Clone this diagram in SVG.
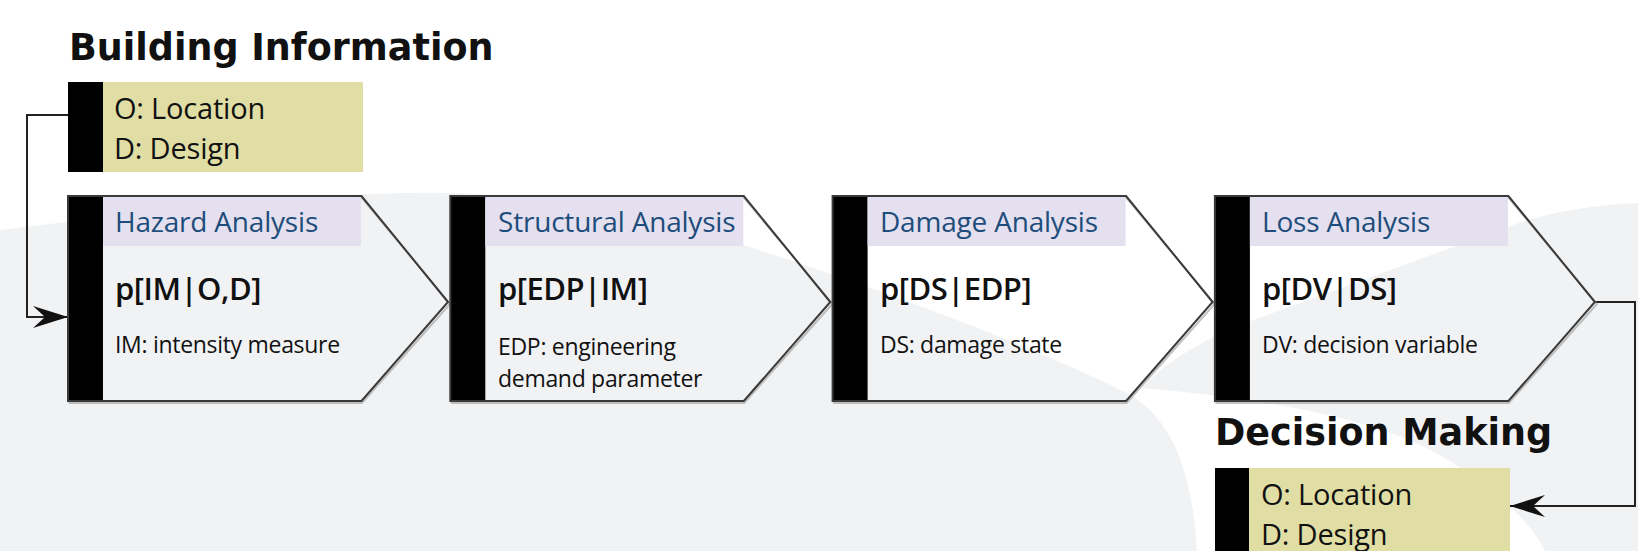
<svg xmlns="http://www.w3.org/2000/svg" width="1638" height="551" viewBox="0 0 1638 551">
<defs>
<style>
.bg{fill:#f1f2f4}
.title{font-family:"DejaVu Sans",Verdana,sans-serif;font-weight:bold;font-size:36.5px;fill:#111}
.info{font-family:"Open Sans","Noto Sans",sans-serif;font-size:29px;fill:#111;letter-spacing:-0.2px}
.head{font-family:"Open Sans","Noto Sans",sans-serif;font-size:28px;fill:#1e4d7b;letter-spacing:-0.2px}
.formula{font-family:"Open Sans","Noto Sans",sans-serif;font-weight:600;font-size:31px;fill:#111;letter-spacing:-0.5px}
.desc{font-family:"Open Sans","Noto Sans",sans-serif;font-size:23px;fill:#111;letter-spacing:-0.3px}
.bar{fill:#000}
.yellow{fill:#e0dea4}
.hdr{fill:#e4e0ef}
.outline{fill:none;stroke:#3a3a3a;stroke-width:2;stroke-linejoin:miter}
.shadow{fill:none;stroke:#9a9a9a;stroke-width:2;opacity:0.6}
.conn{fill:none;stroke:#222;stroke-width:2}
</style>
<marker id="arrow" markerUnits="userSpaceOnUse" markerWidth="36" markerHeight="24" refX="35" refY="11" orient="auto">
<path d="M35,11 L0,0 L12,11 L0,22 Z" fill="#111"/>
</marker>
</defs>

<g id="background">
<rect width="1638" height="551" fill="#ffffff"/>
<path class="bg" d="M0,230 C150,212 330,190 450,193 C580,196 680,225 743,245 C830,272 1010,335 1127,393 C1172,418 1192,470 1197,551 L0,551 Z"/>
<path class="bg" d="M1638,203 C1590,205 1540,214 1508,227 L1248,322 C1195,342 1160,368 1142,388 C1260,398 1380,418 1445,458 C1495,490 1530,520 1545,551 L1638,551 Z"/>
</g>

<g id="connectors">
<path class="conn" d="M68,115 H27 V317 H68" marker-end="url(#arrow)"/>
<path class="conn" d="M1594,302 H1635 V506 H1510" marker-end="url(#arrow)"/>
</g>

<text class="title" x="69" y="60">Building Information</text>

<g id="building-information">
<rect class="bar" x="68" y="82" width="35" height="90"/>
<rect class="yellow" x="103" y="82" width="260" height="90"/>
<text class="info" x="114" y="119">O: Location</text>
<text class="info" x="114" y="159">D: Design</text>
</g>

<g id="hazard-analysis">
<polygon class="shadow" points="69.5,198 362,198 450,304 362,403 69.5,403"/>
<rect class="bar" x="68" y="196" width="35" height="205"/>
<rect class="hdr" x="103" y="197" width="258" height="49"/>
<polygon class="outline" points="68,196 361.5,196 448,302 361.5,401 68,401"/>
<text class="head" x="115" y="232">Hazard Analysis</text>
<text class="formula" x="115" y="300">p[IM|O,D]</text>
<text class="desc" x="115" y="353">IM: intensity measure</text>
</g>

<g id="structural-analysis">
<polygon class="shadow" points="451.8,198 744.3,198 832.3,304 744.3,403 451.8,403"/>
<rect class="bar" x="450.3" y="196" width="35" height="205"/>
<rect class="hdr" x="485.3" y="197" width="258" height="49"/>
<polygon class="outline" points="450.3,196 743.8,196 830.3,302 743.8,401 450.3,401"/>
<text class="head" x="498" y="232">Structural Analysis</text>
<text class="formula" x="498" y="300">p[EDP|IM]</text>
<text class="desc" x="498" y="355">EDP: engineering</text>
<text class="desc" x="498" y="387">demand parameter</text>
</g>

<g id="damage-analysis">
<polygon class="shadow" points="834.1,198 1126.6,198 1214.6,304 1126.6,403 834.1,403"/>
<rect class="bar" x="832.6" y="196" width="35" height="205"/>
<rect class="hdr" x="867.6" y="197" width="258" height="49"/>
<polygon class="outline" points="832.6,196 1126.1,196 1212.6,302 1126.1,401 832.6,401"/>
<text class="head" x="880" y="232">Damage Analysis</text>
<text class="formula" x="880" y="300">p[DS|EDP]</text>
<text class="desc" x="880" y="353">DS: damage state</text>
</g>

<g id="loss-analysis">
<polygon class="shadow" points="1216.4,198 1508.9,198 1596.9,304 1508.9,403 1216.4,403"/>
<rect class="bar" x="1214.9" y="196" width="35" height="205"/>
<rect class="hdr" x="1249.9" y="197" width="258" height="49"/>
<polygon class="outline" points="1214.9,196 1508.4,196 1594.9,302 1508.4,401 1214.9,401"/>
<text class="head" x="1262" y="232">Loss Analysis</text>
<text class="formula" x="1262" y="300">p[DV|DS]</text>
<text class="desc" x="1262" y="353">DV: decision variable</text>
</g>

<text class="title" x="1215" y="445">Decision Making</text>

<g id="decision-making">
<rect class="bar" x="1215" y="468" width="34" height="90"/>
<rect class="yellow" x="1249" y="468" width="261" height="90"/>
<text class="info" x="1261" y="505">O: Location</text>
<text class="info" x="1261" y="545">D: Design</text>
</g>
</svg>
